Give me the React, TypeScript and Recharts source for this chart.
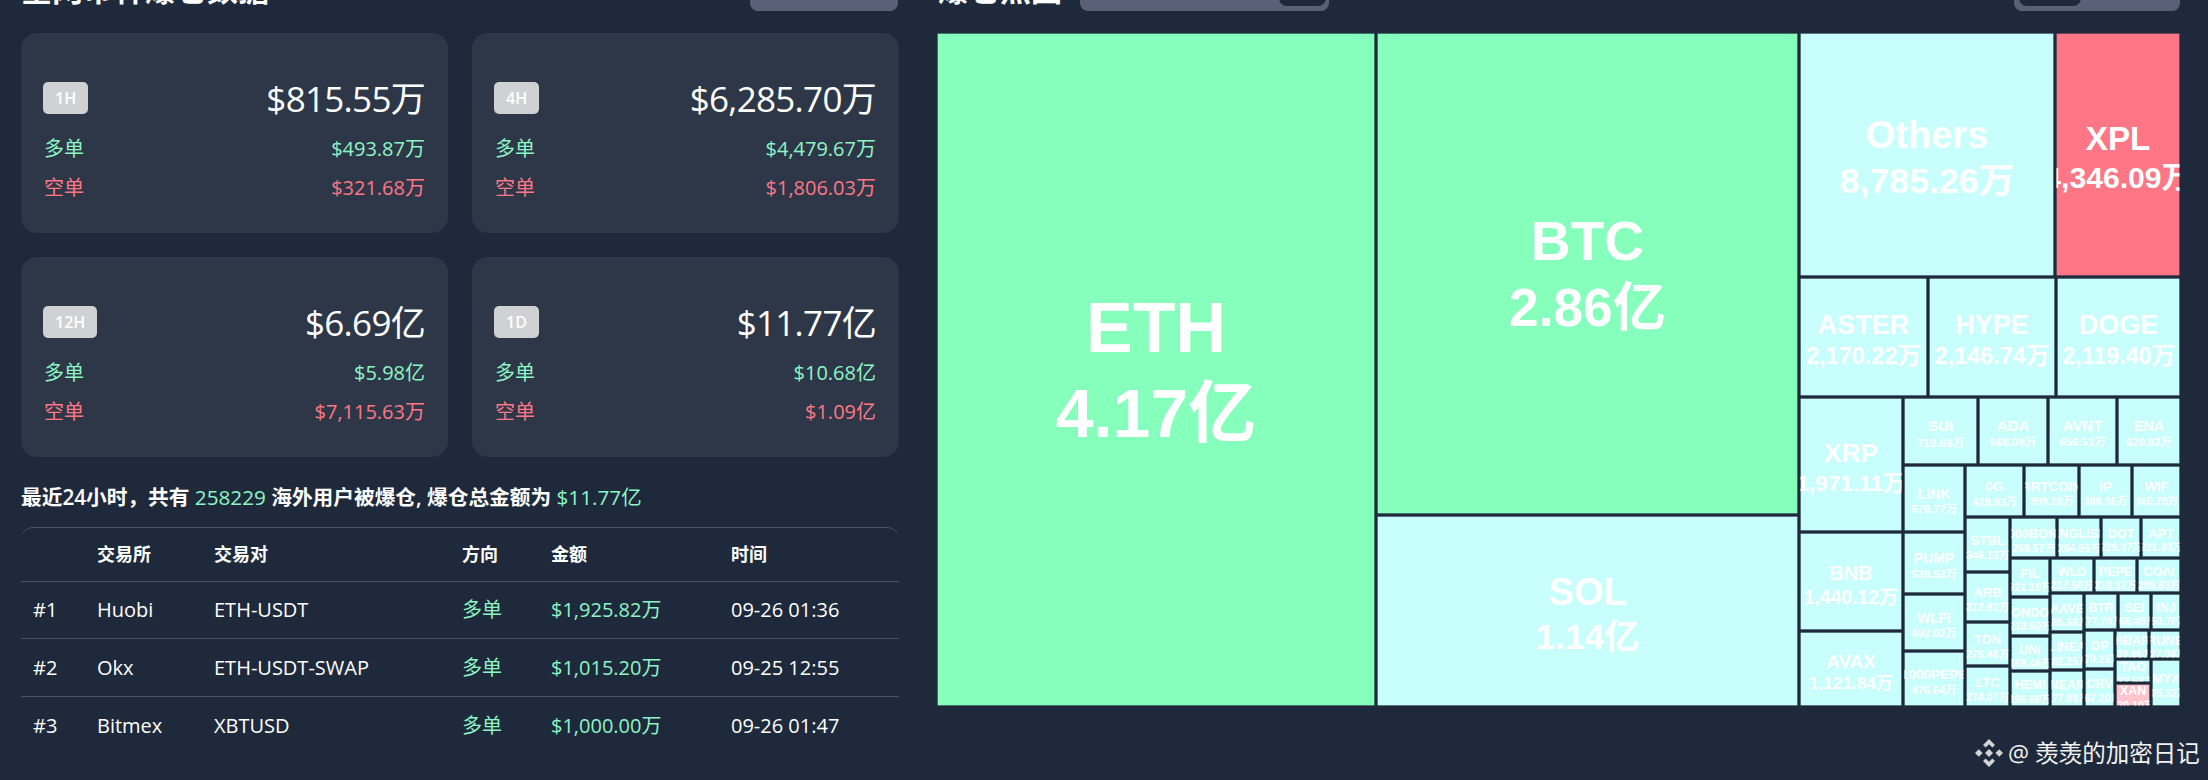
import React from "react";
import { Treemap } from "recharts";

const names = ["ETH","BTC","SOL","Others","XPL","ASTER","HYPE","DOGE","XRP","BNB","AVAX","SUI","ADA","AVNT","ENA","LINK","PUMP","WLFI","1000PEPE","0G","ARTCOIN","IP","WIF","STBL","ARB","TON","LTC","1000BONK","ENGLISH","DOT","APT","FIL","ONDO","UNI","HEMI","WLD","PEPE","COAI","AAVE","LINEA","NEAR","BTR","SEI","INJ","OP","CRV","HBAR","RUNE","TAO","XAN","MYX"];
const values = [41650,28600,11400,8785.26,4346.09,2170.22,2146.74,2119.40,1971.11,1440.12,1121.84,710.68,668.08,656.51,620.82,579.77,539.53,492.02,476.64,428.93,399.28,388.36,360.78,346.13,312.92,276.48,274.07,268.57,254.55,229.07,221.30,221.19,218.50,198.46,196.88,217.50,210.32,209.83,185.66,182.25,177.88,177.70,168.49,150.70,170.25,167.20,139.65,127.06,122.58,120.10,105.32];
const labels = ["4.17亿","2.86亿","1.14亿","8,785.26万","4,346.09万","2,170.22万","2,146.74万","2,119.40万","1,971.11万","1,440.12万","1,121.84万","710.68万","668.08万","656.51万","620.82万","579.77万","539.53万","492.02万","476.64万","428.93万","399.28万","388.36万","360.78万","346.13万","312.92万","276.48万","274.07万","268.57万","254.55万","229.07万","221.30万","221.19万","218.50万","198.46万","196.88万","217.50万","210.32万","209.83万","185.66万","182.25万","177.88万","177.70万","168.49万","150.70万","170.25万","167.20万","139.65万","127.06万","122.58万","120.10万","105.32万"];

const cardPeriods = ["1H","4H","12H","1D"];
const cardTotals = ["$815.55万","$6,285.70万","$6.69亿","$11.77亿"];
const cardLongs = ["$493.87万","$4,479.67万","$5.98亿","$10.68亿"];
const cardShorts = ["$321.68万","$1,806.03万","$7,115.63万","$1.09亿"];
const tableHead = ["交易所","交易对","方向","金额","时间"];
const tableRows = [
  ["#1","Huobi","ETH-USDT","多单","$1,925.82万","09-26 01:36"],
  ["#2","Okx","ETH-USDT-SWAP","多单","$1,015.20万","09-25 12:55"],
  ["#3","Bitmex","XBTUSD","多单","$1,000.00万","09-26 01:47"],
];

const BG = "#1e293b", CARD = "#2d3748", GREEN = "#86ffbd", RED = "#ff7686", CYAN = "#c8fffd";
const GREEN_TEXT = "#8df5c4", RED_TEXT = "#ff7686";
const FONT = '"Open Sans","Noto Sans CJK SC",sans-serif';
const CELL_FONT = '"Liberation Sans","Noto Sans CJK SC",sans-serif';

const data = names.map((name, i) => ({
  name, size: values[i], label: labels[i],
  fill: name === "ETH" || name === "BTC" ? GREEN : name === "XPL" ? RED : name === "XAN" ? "#ffc4cc" : CYAN,
}));

const NAME_SIZES: number[][] = [[1500,12.5],[4000,14],[5000,15.4],[8000,19],[10000,19.5],[13900,26.5],[30000,33],[62000,38],[80000,38],[203000,55],[296000,70]];
const VALUE_SIZES: number[][] = [[1500,10.5],[5000,11.5],[8000,17.4],[15000,23.3],[30000,30],[62000,35.7],[80000,35],[203000,53],[296000,68]];
const lookup = (t: number[][], a: number) => {
  if (a <= t[0][0]) return t[0][1];
  for (let i = 1; i < t.length; i++) {
    if (a <= t[i][0]) {
      const f = (a - t[i - 1][0]) / (t[i][0] - t[i - 1][0]);
      return t[i - 1][1] + f * (t[i][1] - t[i - 1][1]);
    }
  }
  return t[t.length - 1][1];
};

const Cell = (p: any) => {
  const { x, y, width, height, name, label, fill, depth } = p;
  if (depth !== 1 || !name) return <g />;
  const area = width * height;
  const fs = lookup(NAME_SIZES, area);
  const vs = lookup(VALUE_SIZES, area);
  const w = Math.max(0, width - 3), h = Math.max(0, height - 3);
  const s = (fs + vs) * 0.62;
  const k = area > 150000 ? 0 : 3;
  const cx = w / 2, cy = h / 2 + k;
  return (
    <g>
      <rect x={x + 1.5} y={y + 1.5} width={w} height={h} fill={fill} stroke="#1e293b" strokeOpacity={0.3} strokeWidth={1} />
      <svg x={x + 1.5} y={y + 1.5} width={w} height={h} style={{ overflow: "hidden" }}>
        <text x={cx} y={cy - s / 2 + fs * 0.36} textAnchor="middle" stroke="none" fontFamily={CELL_FONT} fontWeight={700} fontSize={fs} fill="#fff">{name}</text>
        <text x={cx} y={cy + s / 2 + vs * 0.36} textAnchor="middle" stroke="none" fontFamily={CELL_FONT} fontWeight={700} fontSize={vs} fill="#fff">{label}</text>
      </svg>
    </g>
  );
};

const Card = ({ i, left, top }: { i: number; left: number; top: number }) => (
  <div style={{ position: "absolute", left, top, width: 427, height: 200, background: CARD, borderRadius: 16 }}>
    <div style={{ position: "absolute", left: 22, top: 49, height: 32, padding: "0 12px", borderRadius: 5, background: "#cfd1d3", color: "#fff", fontSize: 16, fontWeight: 600, lineHeight: "32px", textAlign: "center" }}>{cardPeriods[i]}</div>
    <div style={{ position: "absolute", right: 23, top: 43, color: "#fff", fontSize: 35, letterSpacing: -0.7, lineHeight: "46px" }}>{cardTotals[i]}</div>
    <div style={{ position: "absolute", left: 23, top: 102, color: GREEN_TEXT, fontSize: 20, lineHeight: "28px" }}>多单</div>
    <div style={{ position: "absolute", right: 23, top: 102, color: GREEN_TEXT, fontSize: 20, lineHeight: "28px" }}>{cardLongs[i]}</div>
    <div style={{ position: "absolute", left: 23, top: 141, color: RED_TEXT, fontSize: 20, lineHeight: "28px" }}>空单</div>
    <div style={{ position: "absolute", right: 23, top: 141, color: RED_TEXT, fontSize: 20, lineHeight: "28px" }}>{cardShorts[i]}</div>
  </div>
);

const colX = [33, 97, 214, 462, 551, 731];

export default function App() {
  return (
    <div style={{ position: "absolute", left: 0, top: 0, width: 2208, height: 780, background: BG, overflow: "hidden", fontFamily: FONT }}>
      <div style={{ position: "absolute", left: 21, top: -26, color: "#fff", fontSize: 31, fontWeight: 700, lineHeight: "30px" }}>全网币种爆仓数据</div>
      <div style={{ position: "absolute", left: 750, top: -30, width: 148, height: 41, borderRadius: 8, background: "#5a6078" }} />
      <div style={{ position: "absolute", left: 938, top: -26, color: "#fff", fontSize: 31, fontWeight: 700, lineHeight: "30px" }}>爆仓热图</div>
      <div style={{ position: "absolute", left: 1080, top: -30, width: 249, height: 41, borderRadius: 8, background: "#5a6078" }} />
      <div style={{ position: "absolute", left: 1279, top: -30, width: 47, height: 36, borderRadius: 8, background: BG }} />
      <div style={{ position: "absolute", left: 2014, top: -30, width: 166, height: 41, borderRadius: 8, background: "#5a6078" }} />
      <div style={{ position: "absolute", left: 2019, top: -30, width: 62, height: 36, borderRadius: 8, background: BG }} />

      <Card i={0} left={21} top={33} />
      <Card i={1} left={472} top={33} />
      <Card i={2} left={21} top={257} />
      <Card i={3} left={472} top={257} />

      <div style={{ position: "absolute", left: 21, top: 483, color: "#fff", fontSize: 20.7, lineHeight: "28px", fontWeight: 600, whiteSpace: "pre" }}>
        最近24小时，共有 <span style={{ color: GREEN_TEXT, fontWeight: 400 }}>258229</span> 海外用户被爆仓, 爆仓总金额为 <span style={{ color: GREEN_TEXT, fontWeight: 400 }}>$11.77亿</span>
      </div>

      <div style={{ position: "absolute", left: 21, top: 527, width: 878, height: 53, borderTop: "1px solid #4a5568", borderBottom: "1px solid #4a5568", borderRadius: "12px 12px 0 0" }} />
      {[638, 696].map((t) => <div key={t} style={{ position: "absolute", left: 21, top: t, width: 878, height: 1, background: "#4a5568" }} />)}
      {tableHead.map((h, i) => (
        <div key={h} style={{ position: "absolute", left: colX[i + 1], top: 541, color: "#fff", fontSize: 18, fontWeight: 700, lineHeight: "26px" }}>{h}</div>
      ))}
      {tableRows.map((r, ri) =>
        r.map((c, ci) => (
          <div key={ci} style={{ position: "absolute", left: colX[ci], top: 596 + ri * 58, color: ci === 3 || ci === 4 ? GREEN_TEXT : "#fff", fontSize: 20, lineHeight: "28px", whiteSpace: "pre" }}>{c}</div>
        ))
      )}

      <div style={{ position: "absolute", left: 936, top: 32 }}>
        <Treemap width={1245} height={675} data={data} dataKey="size" nameKey="name" type="flat" aspectRatio={1} stroke={BG} isAnimationActive={false} content={<Cell />} />
      </div>

      <div style={{ position: "absolute", left: 1975, top: 735, color: "#f2f2f2", fontSize: 23.5, lineHeight: "36px", whiteSpace: "pre", display: "flex", alignItems: "center" }}>
        <svg width={28} height={28} viewBox="0 0 28 28" style={{ marginRight: 5 }}>
          <g fill="#d4d4d4">
            <path d="M14 0l6 6-2.6 2.6L14 5.2l-3.400 3.400L8 6z" />
            <path d="M14 28l6-6-2.600-2.600L14 22.800l-3.400-3.400L8 22z" />
            <path d="M0 14l3.800-3.800L7.600 14l-3.800 3.800z" />
            <path d="M28 14l-3.800-3.800L20.400 14l3.800 3.800z" />
            <path d="M14 10l4 4-4 4-4-4z" />
          </g>
        </svg>
        @ 羡羡的加密日记
      </div>
    </div>
  );
}
